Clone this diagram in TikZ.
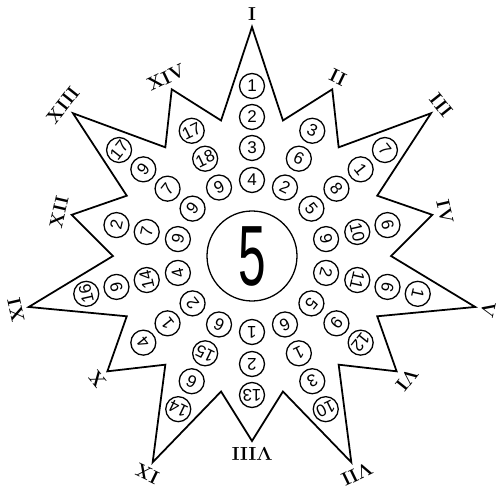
\documentclass[tikz,border=0pt]{standalone}
\usepackage{fontspec}
\setsansfont{Liberation Sans}
\usepackage{graphicx}
\tikzset{
  ball/.style={draw, circle, line width=1.1pt, minimum size=0.75cm, inner sep=0pt},
  digit/.style={inner sep=0pt, font=\sffamily\fontsize{14.5}{14.5}\selectfont},
  numeral/.style={inner sep=0pt, font=\bfseries\fontsize{16}{16}\selectfont}
}
\begin{document}
\begin{tikzpicture}[x=0.03cm,y=0.03cm]
\useasboundingbox (-252,-247) rectangle (248,256);
% the star
\draw[line width=1.5pt] (90:229) -- (77.14:139) -- (64.29:185) -- (51.43:139)
  -- (38.57:229) -- (25.71:139) -- (12.86:185) -- (0:139)
  -- (-12.86:229) -- (-25.71:139) -- (-38.57:185) -- (-51.43:139)
  -- (-64.29:229) -- (-77.14:139) -- (-90:185) -- (-102.86:139)
  -- (-115.71:229) -- (-128.57:139) -- (-141.43:185) -- (-154.29:139)
  -- (-167.14:229) -- (-180:139) -- (-192.86:185) -- (-205.71:139)
  -- (-218.57:229) -- (-231.43:139) -- (-244.29:185) -- (-257.14:139) -- cycle;
% centre
\node[draw, circle, line width=1.1pt, minimum size=2.7cm, inner sep=0pt] (hub) at (0,0)
  {\scalebox{0.58}[1]{\sffamily\fontsize{73}{73}\selectfont 5}};
% ray I
\node[ball, label={[digit]center:1}] (c1a) at (90:170) {};
\node[ball, label={[digit]center:2}] (c1b) at (90:139) {};
\node[ball, label={[digit]center:3}] (c1c) at (90:108) {};
\node[ball, label={[digit]center:4}] (c1d) at (90:76) {};
% ray II
\node[ball, label={[digit, rotate=-25.71]center:3}] (c2a) at (64.29:139) {};
\node[ball, label={[digit, rotate=-25.71]center:6}] (c2b) at (64.29:108) {};
\node[ball, label={[digit, rotate=-25.71]center:2}] (c2c) at (64.29:76) {};
% ray III
\node[ball, label={[digit, rotate=-51.43]center:7}] (c3a) at (38.57:170) {};
\node[ball, label={[digit, rotate=-51.43]center:1}] (c3b) at (38.57:139) {};
\node[ball, label={[digit, rotate=-51.43]center:8}] (c3c) at (38.57:108) {};
\node[ball, label={[digit, rotate=-51.43]center:5}] (c3d) at (38.57:76) {};
% ray IV
\node[ball, label={[digit, rotate=-77.14]center:6}] (c4a) at (12.86:139) {};
\node[ball, label={[digit, rotate=-77.14]center:10}] (c4b) at (12.86:108) {};
\node[ball, label={[digit, rotate=-77.14]center:9}] (c4c) at (12.86:76) {};
% ray V
\node[ball, label={[digit, rotate=-102.86]center:1}] (c5a) at (-12.86:170) {};
\node[ball, label={[digit, rotate=-102.86]center:6}] (c5b) at (-12.86:139) {};
\node[ball, label={[digit, rotate=-102.86]center:11}] (c5c) at (-12.86:108) {};
\node[ball, label={[digit, rotate=-102.86]center:2}] (c5d) at (-12.86:76) {};
% ray VI
\node[ball, label={[digit, rotate=-128.57]center:12}] (c6a) at (-38.57:139) {};
\node[ball, label={[digit, rotate=-128.57]center:9}] (c6b) at (-38.57:108) {};
\node[ball, label={[digit, rotate=-128.57]center:5}] (c6c) at (-38.57:76) {};
% ray VII
\node[ball, label={[digit, rotate=-154.29]center:10}] (c7a) at (-64.29:170) {};
\node[ball, label={[digit, rotate=-154.29]center:3}] (c7b) at (-64.29:139) {};
\node[ball, label={[digit, rotate=-154.29]center:1}] (c7c) at (-64.29:108) {};
\node[ball, label={[digit, rotate=-154.29]center:6}] (c7d) at (-64.29:76) {};
% ray VIII
\node[ball, label={[digit, rotate=-180]center:13}] (c8a) at (-90:139) {};
\node[ball, label={[digit, rotate=-180]center:2}] (c8b) at (-90:108) {};
\node[ball, label={[digit, rotate=-180]center:1}] (c8c) at (-90:76) {};
% ray IX
\node[ball, label={[digit, rotate=-205.71]center:14}] (c9a) at (-115.71:170) {};
\node[ball, label={[digit, rotate=-205.71]center:6}] (c9b) at (-115.71:139) {};
\node[ball, label={[digit, rotate=-205.71]center:15}] (c9c) at (-115.71:108) {};
\node[ball, label={[digit, rotate=-205.71]center:6}] (c9d) at (-115.71:76) {};
% ray X
\node[ball, label={[digit, rotate=-231.43]center:4}] (c10a) at (-141.43:139) {};
\node[ball, label={[digit, rotate=-231.43]center:1}] (c10b) at (-141.43:108) {};
\node[ball, label={[digit, rotate=-231.43]center:2}] (c10c) at (-141.43:76) {};
% ray XI
\node[ball, label={[digit, rotate=-257.14]center:16}] (c11a) at (-167.14:170) {};
\node[ball, label={[digit, rotate=-257.14]center:9}] (c11b) at (-167.14:139) {};
\node[ball, label={[digit, rotate=-257.14]center:14}] (c11c) at (-167.14:108) {};
\node[ball, label={[digit, rotate=-257.14]center:4}] (c11d) at (-167.14:76) {};
% ray XII
\node[ball, label={[digit, rotate=-282.86]center:2}] (c12a) at (-192.86:139) {};
\node[ball, label={[digit, rotate=-282.86]center:7}] (c12b) at (-192.86:108) {};
\node[ball, label={[digit, rotate=-282.86]center:9}] (c12c) at (-192.86:76) {};
% ray XIII
\node[ball, label={[digit, rotate=-308.57]center:17}] (c13a) at (-218.57:170) {};
\node[ball, label={[digit, rotate=-308.57]center:9}] (c13b) at (-218.57:139) {};
\node[ball, label={[digit, rotate=-308.57]center:7}] (c13c) at (-218.57:108) {};
\node[ball, label={[digit, rotate=-308.57]center:9}] (c13d) at (-218.57:76) {};
% ray XIV
\node[ball, label={[digit, rotate=-334.29]center:17}] (c14a) at (-244.29:139) {};
\node[ball, label={[digit, rotate=-334.29]center:18}] (c14b) at (-244.29:108) {};
\node[ball, label={[digit, rotate=-334.29]center:9}] (c14c) at (-244.29:76) {};
% numerals at the points
\node[numeral] (n1) at (90:242) {I};
\node[numeral, rotate=-25.71] (n2) at (64.29:198) {II};
\node[numeral, rotate=-51.43] (n3) at (38.57:242) {III};
\node[numeral, rotate=-77.14] (n4) at (12.86:198) {IV};
\node[numeral, rotate=-102.86] (n5) at (-12.86:242) {V};
\node[numeral, rotate=-128.57] (n6) at (-38.57:198) {VI};
\node[numeral, rotate=-154.29] (n7) at (-64.29:242) {VII};
\node[numeral, rotate=-180] (n8) at (-90:198) {VIII};
\node[numeral, rotate=-205.71] (n9) at (-115.71:242) {IX};
\node[numeral, rotate=-231.43] (n10) at (-141.43:198) {X};
\node[numeral, rotate=-257.14] (n11) at (-167.14:242) {XI};
\node[numeral, rotate=-282.86] (n12) at (-192.86:198) {XII};
\node[numeral, rotate=-308.57] (n13) at (-218.57:242) {XIII};
\node[numeral, rotate=-334.29] (n14) at (-244.29:198) {XIV};
\end{tikzpicture}
\end{document}
